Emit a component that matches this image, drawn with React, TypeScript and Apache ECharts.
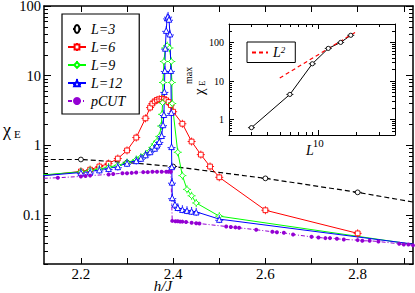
import React, { useEffect, useRef } from 'react';
import * as echarts from 'echarts';

const SERIF = '"Liberation Serif", "DejaVu Serif", serif';

// ---- tick definitions ----
const xTickValues = [2.2, 2.3, 2.4, 2.5, 2.6, 2.7, 2.8, 2.9];
const xLabelValues = [2.2, 2.4, 2.6, 2.8];
const yMajorTicks = [0.1, 1, 10, 100];
const yMinorTicks = [0.02, 0.03, 0.04, 0.05, 0.06, 0.07, 0.08, 0.09, 0.2, 0.3, 0.4, 0.5, 0.6, 0.7, 0.8, 0.9, 2, 3, 4, 5, 6, 7, 8, 9, 20, 30, 40, 50, 60, 70, 80, 90];
const insetXMajor = [10];
const insetXMinor = [3, 4, 5, 6, 7, 8, 9, 20, 30];
const insetYMajor = [1, 10, 100];
const insetYMinor = [0.5, 0.6, 0.7, 0.8, 0.9, 2, 3, 4, 5, 6, 7, 8, 9, 20, 30, 40, 50, 60, 70, 80, 90, 200];

// ---- main chart data: [h/J, chi_E] ----
const L3: [number, number][] = [[2.10, 0.63], [2.20, 0.63], [2.30, 0.57], [2.40, 0.50], [2.60, 0.338], [2.80, 0.213], [3.00, 0.125]];
const L6: [number, number][] = [[2.10, 0.36], [2.20, 0.425], [2.22, 0.45], [2.24, 0.50], [2.26, 0.55], [2.28, 0.65], [2.30, 0.85], [2.32, 1.30], [2.34, 2.45], [2.35, 3.5], [2.355, 4.0], [2.36, 4.3], [2.365, 4.5], [2.37, 4.6], [2.375, 4.65], [2.38, 4.6], [2.385, 4.45], [2.39, 4.2], [2.395, 3.8], [2.40, 3.05], [2.42, 2.05], [2.44, 1.14], [2.46, 0.74], [2.48, 0.50], [2.50, 0.35], [2.60, 0.118], [2.80, 0.055]];
const L9: [number, number][] = [[2.10, 0.37], [2.20, 0.42], [2.22, 0.44], [2.24, 0.46], [2.26, 0.49], [2.28, 0.52], [2.30, 0.57], [2.32, 0.63], [2.33, 0.68], [2.34, 0.74], [2.35, 0.84], [2.355, 0.94], [2.36, 1.05], [2.365, 1.15], [2.37, 1.35], [2.374, 1.9], [2.376, 2.8], [2.377, 4.1], [2.378, 8], [2.38, 16], [2.383, 25], [2.387, 27], [2.392, 25], [2.396, 16], [2.397, 8], [2.398, 4], [2.41, 0.8], [2.42, 0.37], [2.43, 0.235], [2.44, 0.19], [2.45, 0.15], [2.50, 0.097], [3.00, 0.032]];
const L12: [number, number][] = [[2.10, 0.36], [2.20, 0.41], [2.22, 0.42], [2.24, 0.45], [2.26, 0.47], [2.28, 0.50], [2.30, 0.56], [2.32, 0.61], [2.33, 0.66], [2.34, 0.74], [2.35, 0.82], [2.36, 0.92], [2.365, 1.02], [2.37, 1.15], [2.375, 1.4], [2.378, 2.0], [2.38, 2.8], [2.381, 6], [2.382, 12], [2.383, 25], [2.385, 45], [2.387, 68], [2.389, 72], [2.391, 65], [2.393, 40], [2.395, 12], [2.396, 3], [2.3965, 0.97], [2.397, 0.5], [2.3975, 0.30], [2.398, 0.18], [2.404, 0.145], [2.41, 0.13], [2.42, 0.122], [2.43, 0.118], [2.44, 0.115], [2.45, 0.112], [2.50, 0.088], [3.00, 0.033]];
const PCUT: [number, number][] = [[2.10, 0.335], [2.15, 0.345], [2.20, 0.36], [2.21, 0.365], [2.22, 0.37], [2.26, 0.385], [2.27, 0.39], [2.29, 0.40], [2.30, 0.40], [2.31, 0.405], [2.32, 0.41], [2.335, 0.415], [2.345, 0.415], [2.355, 0.42], [2.365, 0.42], [2.375, 0.42], [2.385, 0.42], [2.39, 0.42], [2.395, 0.42], [2.398, 0.083], [2.405, 0.082], [2.41, 0.082], [2.415, 0.081], [2.42, 0.081], [2.428, 0.080], [2.44, 0.078], [2.45, 0.077], [2.457, 0.076], [2.515, 0.069], [2.525, 0.068], [2.535, 0.067], [2.543, 0.066], [2.58, 0.062], [2.615, 0.058], [2.625, 0.057], [2.64, 0.056], [2.66, 0.053], [2.70, 0.049], [2.715, 0.048], [2.73, 0.047], [2.74, 0.047], [2.755, 0.046], [2.77, 0.045], [2.80, 0.044], [2.81, 0.043], [2.826, 0.043], [2.845, 0.042], [2.89, 0.039], [2.90, 0.038], [2.91, 0.038], [2.92, 0.037]];

// ---- inset data: [L, chi_E max] ----
const insetL = [3, 6, 9, 12, 15, 18];
const insetChiMax = [0.62, 4.5, 28, 70, 100, 153];
const L2Line: [number, number][] = [[5, 12], [20, 192]];

// marker shapes with small error-bar stubs
const circPath = 'path://M0,5H2M8,5H10M2,5A3,3,0,1,1,8,5A3,3,0,1,1,2,5Z';
const sqPath = 'path://M0,5H2M8,5H10M5,0V2M5,8V10M2,2H8V8H2Z';
const diaPath = 'path://M0,5H1.5M8.5,5H10M5,0V1.5M5,8.5V10M5,1.5L8.5,5L5,8.5L1.5,5Z';
const triPath = 'path://M0,6.5H2M8,6.5H10M5,0V2M5,9V10M5,2L8.5,9H1.5Z';

const fmtX = (v: number) => v.toFixed(1);
const fmtLog = (v: number) => (v >= 1 ? String(Math.round(v)) : String(Number(v.toPrecision(1))));

type AxOpt = {
  grid: number; type: 'value' | 'log'; min: number; max: number; pos: string;
  ticks: number[]; len: number; labels?: number[]; size?: number; line?: number; margin?: number;
  fmt?: (v: number) => string; pad?: number[];
};
const mkAxis = (o: AxOpt) => ({
  gridIndex: o.grid,
  type: o.type,
  min: o.min,
  max: o.max,
  position: o.pos,
  logBase: 10,
  axisLine: { show: !!o.line, onZero: false, lineStyle: { color: '#000', width: o.line || 1 } },
  axisTick: { show: true, inside: true, length: o.len, customValues: o.ticks, lineStyle: { color: '#000', width: 1 } },
  axisLabel: o.labels
    ? { show: true, customValues: o.labels, fontFamily: SERIF, fontSize: o.size, lineHeight: (o.size || 12) - 3, color: '#000', margin: o.margin, formatter: o.fmt, padding: o.pad || 0 }
    : { show: false },
  splitLine: { show: false },
  minorTick: { show: false },
  axisPointer: { show: false },
});

const App: React.FC = () => {
  const ref = useRef<HTMLDivElement>(null);
  useEffect(() => {
    if (!ref.current) return;
    const chart = echarts.init(ref.current, undefined, { renderer: 'svg' });
    const XMIN = 2.12, XMAX = 2.92, YMIN = 0.02, YMAX = 100;
    const IXMIN = 2, IXMAX = 40, IYMIN = 0.4, IYMAX = 300;
    const mainSeries = (name: string, data: [number, number][], color: string, symbol: string, size: number, lineType: any, width: number) => ({
      type: 'line', name, data, xAxisIndex: 0, yAxisIndex: 0,
      symbol, symbolSize: size, symbolKeepAspect: true,
      itemStyle: { color: '#fff', borderColor: color, borderWidth: 0.9 },
      lineStyle: { color, width, type: lineType },
      emphasis: { disabled: true },
    });
    chart.setOption({
      animation: false,
      backgroundColor: '#fff',
      grid: [
        { left: 44, top: 6, width: 369, height: 258, outerBoundsMode: 'none', containLabel: false },
        { left: 229, top: 24, width: 166, height: 111, show: true, backgroundColor: '#fff', borderWidth: 0, outerBoundsMode: 'none', containLabel: false },
      ],
      xAxis: [
        mkAxis({ grid: 0, type: 'value', min: XMIN, max: XMAX, pos: 'bottom', ticks: xTickValues, len: 6, labels: xLabelValues, size: 15, line: 1.5, margin: 4, fmt: fmtX }),
        mkAxis({ grid: 0, type: 'value', min: XMIN, max: XMAX, pos: 'top', ticks: xTickValues, len: 6, line: 1.5 }),
        mkAxis({ grid: 1, type: 'log', min: IXMIN, max: IXMAX, pos: 'bottom', ticks: insetXMajor, len: 5, labels: insetXMajor, size: 11, line: 1, margin: 4, fmt: fmtLog }),
        mkAxis({ grid: 1, type: 'log', min: IXMIN, max: IXMAX, pos: 'bottom', ticks: insetXMinor, len: 3 }),
        mkAxis({ grid: 1, type: 'log', min: IXMIN, max: IXMAX, pos: 'top', ticks: insetXMajor, len: 5, line: 1 }),
        mkAxis({ grid: 1, type: 'log', min: IXMIN, max: IXMAX, pos: 'top', ticks: insetXMinor, len: 3 }),
      ],
      yAxis: [
        mkAxis({ grid: 0, type: 'log', min: YMIN, max: YMAX, pos: 'left', ticks: yMajorTicks, len: 7, labels: yMajorTicks, size: 14.5, line: 1.5, margin: 3, fmt: fmtLog, pad: [4, 0, 0, 0] }),
        mkAxis({ grid: 0, type: 'log', min: YMIN, max: YMAX, pos: 'left', ticks: yMinorTicks, len: 4 }),
        mkAxis({ grid: 0, type: 'log', min: YMIN, max: YMAX, pos: 'right', ticks: yMajorTicks, len: 7, line: 1.5 }),
        mkAxis({ grid: 0, type: 'log', min: YMIN, max: YMAX, pos: 'right', ticks: yMinorTicks, len: 4 }),
        mkAxis({ grid: 1, type: 'log', min: IYMIN, max: IYMAX, pos: 'left', ticks: insetYMajor, len: 5, labels: insetYMajor, size: 10, line: 1, margin: 5, fmt: fmtLog }),
        mkAxis({ grid: 1, type: 'log', min: IYMIN, max: IYMAX, pos: 'left', ticks: insetYMinor, len: 3 }),
        mkAxis({ grid: 1, type: 'log', min: IYMIN, max: IYMAX, pos: 'right', ticks: insetYMajor, len: 5, line: 1 }),
        mkAxis({ grid: 1, type: 'log', min: IYMIN, max: IYMAX, pos: 'right', ticks: insetYMinor, len: 3 }),
      ],
      legend: [
        {
          data: [
            { name: 'L=3', lineStyle: { opacity: 0 } },
            'L=6', 'L=9', 'L=12', 'pCUT',
          ],
          orient: 'vertical', left: 62, top: 14,
          padding: [8, 14, 6, 5], itemWidth: 18, itemHeight: 10, itemGap: 4,
          borderColor: '#000', borderWidth: 1.2, backgroundColor: '#fff',
          textStyle: { fontFamily: SERIF, fontStyle: 'italic', fontSize: 14, color: '#000', lineHeight: 14 },
          selectedMode: false,
        },
        {
          data: [{ name: 'L2', itemStyle: { opacity: 0 } }],
          left: 247, top: 42,
          padding: [3, 10, 3, 4], itemWidth: 16, itemHeight: 10,
          borderColor: '#000', borderWidth: 1, backgroundColor: '#fff',
          formatter: () => '{i|L}{s|2}',
          textStyle: {
            color: '#000',
            rich: {
              i: { fontFamily: SERIF, fontStyle: 'italic', fontSize: 14, color: '#000' },
              s: { fontFamily: SERIF, fontStyle: 'italic', fontSize: 9, color: '#000', verticalAlign: 'top', padding: [0, 0, 6, 0] },
            },
          },
          selectedMode: false,
        },
      ],
      series: [
        mainSeries('L=3', L3, '#000', circPath, 8, [5, 3], 1.2),
        mainSeries('L=6', L6, '#ff0000', sqPath, 8, 'solid', 1),
        mainSeries('L=9', L9, '#00ff00', diaPath, 8, 'solid', 1),
        mainSeries('L=12', L12, '#0000ff', triPath, 8, 'solid', 1),
        {
          type: 'line', name: 'pCUT', data: PCUT, xAxisIndex: 0, yAxisIndex: 0,
          symbol: 'circle', symbolSize: 4,
          itemStyle: { color: '#9400d3' },
          lineStyle: { color: '#9400d3', width: 1, type: [4, 2, 1, 2] },
          emphasis: { disabled: true },
        },
        {
          type: 'line', name: 'Lmax', data: insetL.map((l, i) => [l, insetChiMax[i]]), xAxisIndex: 2, yAxisIndex: 4,
          symbol: circPath, symbolSize: 7, symbolKeepAspect: true,
          itemStyle: { color: '#fff', borderColor: '#000', borderWidth: 0.9 },
          lineStyle: { color: '#000', width: 1 },
          emphasis: { disabled: true },
        },
        {
          type: 'line', name: 'L2', data: L2Line, xAxisIndex: 2, yAxisIndex: 4,
          symbol: 'none', itemStyle: { color: '#ff0000' },
          lineStyle: { color: '#ff0000', width: 1.2, type: [4, 3] },
          emphasis: { disabled: true },
        },
      ],
      graphic: [
        { type: 'text', x: 3, y: 130, style: { text: 'χ', fontFamily: SERIF, fontSize: 18, fill: '#000', textAlign: 'left', textVerticalAlign: 'middle' } },
        { type: 'text', x: 14, y: 134, style: { text: 'E', fontFamily: SERIF, fontSize: 11, fill: '#000', textAlign: 'left', textVerticalAlign: 'middle' } },
        { type: 'text', x: 163, y: 285.5, style: { text: 'h/J', fontFamily: SERIF, fontStyle: 'italic', fontSize: 15, lineHeight: 11, fill: '#000', textAlign: 'center', textVerticalAlign: 'middle' } },
        { type: 'text', x: 310, y: 150, style: { text: 'L', fontFamily: SERIF, fontStyle: 'italic', fontSize: 14, fill: '#000', textAlign: 'center', textVerticalAlign: 'middle' } },
        {
          type: 'group', x: 199, y: 95, rotation: Math.PI / 2,
          children: [
            { type: 'text', x: 0, y: 0, style: { text: 'χ', fontFamily: SERIF, fontSize: 15, fill: '#000', textAlign: 'left', textVerticalAlign: 'middle' } },
            { type: 'text', x: 9, y: 3, style: { text: 'E', fontFamily: SERIF, fontSize: 9, fill: '#000', textAlign: 'left', textVerticalAlign: 'middle' } },
            { type: 'text', x: 11, y: -11, style: { text: 'max', fontFamily: SERIF, fontSize: 10, fill: '#000', textAlign: 'left', textVerticalAlign: 'middle' } },
          ],
        },
      ],
    });
    return () => chart.dispose();
  }, []);
  return <div ref={ref} style={{ position: 'absolute', left: 0, top: 0, width: 415, height: 293 }} />;
};

export default App;
